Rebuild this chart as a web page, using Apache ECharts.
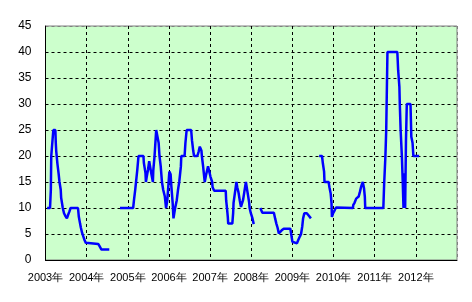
<!DOCTYPE html>
<html>
<head>
<meta charset="utf-8">
<script src="https://cdn.jsdelivr.net/npm/echarts@6/dist/echarts.min.js"></script>
<style>
html,body{margin:0;padding:0;background:#fff;}
#c{width:472px;height:302px;}
</style>
</head>
<body>
<div id="c"></div>
<script>
// x positions are decimal years, values are the plotted values
const yearTicks = [2003, 2004, 2005, 2006, 2007, 2008, 2009, 2010, 2011, 2012];
const yTicks = [0, 5, 10, 15, 20, 25, 30, 35, 40, 45];

const seg1Years = [2003.04,2003.11,2003.13,2003.14,2003.19,2003.24,2003.25,2003.26,2003.29,2003.32,2003.34,2003.37,2003.38,2003.42,2003.45,2003.48,2003.52,2003.55,2003.58,2003.61,2003.79,2003.81,2003.84,2003.86,2003.89,2003.92,2003.95,2003.98,2004.02,2004.28,2004.31,2004.36,2004.55];
const seg1Values = [10,10,13.5,20,25,25,22.5,21,18.5,16.5,15,13.5,12,10,9,8.5,8,8.7,9.3,10,10,8.3,7,6.2,5.2,4.5,3.8,3.3,3.1,3.1,2.7,2,2];

const seg2Years = [2004.81,2005.13,2005.15,2005.18,2005.20,2005.23,2005.26,2005.38,2005.39,2005.43,2005.44,2005.46,2005.49,2005.52,2005.56,2005.57,2005.61,2005.62,2005.65,2005.67,2005.69,2005.72,2005.75,2005.77,2005.80,2005.83,2005.86,2005.90,2005.93,2005.96,2005.99,2006.01,2006.04,2006.06,2006.09,2006.11,2006.14,2006.15,2006.19,2006.22,2006.25,2006.29,2006.30,2006.38,2006.40,2006.43,2006.54,2006.56,2006.59,2006.61,2006.69,2006.72,2006.75,2006.79,2006.80,2006.83,2006.87,2006.90,2006.95,2006.98,2007.01,2007.05,2007.06,2007.10,2007.38,2007.39,2007.41,2007.43,2007.44,2007.54,2007.56,2007.57,2007.61,2007.64,2007.66,2007.69,2007.72,2007.75,2007.78,2007.80,2007.83,2007.87,2007.90,2007.91,2007.95,2007.96,2007.99,2008.03,2008.06];
const seg2Values = [10,10,11.5,13.5,15,17.3,20,20,18.7,16.7,15,16,17.3,19,18.7,16.7,15,17.3,20,22.5,25,25,22.5,20,18,15,13.5,12.2,10,11.5,14.8,17,16.5,14,11,8,8.3,10,11.5,13.5,15,18,20,20,22.5,25,25,23,21,20,20,20.8,21.8,21,20,18,15,16.3,18,17,16,15,14,13.3,13.3,11.5,10,8.3,7,7,9,11,13.3,15,14,13,11.5,10.2,10,11.5,13,15,14.7,13,11,10,9,8,6.9];

const seg3Years = [2008.22,2008.27,2008.55,2008.58,2008.61,2008.64,2008.67,2008.71,2008.74,2008.79,2008.95,2008.97,2009.00,2009.01,2009.11,2009.14,2009.18,2009.21,2009.24,2009.26,2009.29,2009.35,2009.39,2009.42,2009.45];
const seg3Values = [10,9.1,9.1,8,7,6.2,5.1,5.1,5.7,6,6,5,3.5,3.2,3.2,3.8,4.5,5,6.5,8,9,9,8.6,8.3,8];

const seg4Years = [2009.65,2009.72,2009.74,2009.77,2009.78,2009.88,2009.90,2009.93,2009.95,2009.96,2009.99,2010.03,2010.06,2010.47,2010.48,2010.51,2010.55,2010.61,2010.64,2010.67,2010.71,2010.74,2010.76,2010.77,2011.21,2011.23,2011.26,2011.28,2011.29,2011.31,2011.55,2011.57,2011.60,2011.61,2011.63,2011.66,2011.68,2011.70,2011.73,2011.74,2011.76,2011.78,2011.87,2011.89,2011.92,2011.94,2012.08];
const seg4Values = [20,20,18.6,17,15,15,14,12.8,11,8.3,9,9.6,10.1,10,10.6,11,11.8,12.2,13.1,14.1,15,13.8,12.2,10,10,14.7,19.9,25,30,40,40,36.5,33.3,30,25,20,15.4,10,16.7,10,23,30,30,23.7,22.5,20,20];

const segments = [[seg1Years, seg1Values],[seg2Years, seg2Values],[seg3Years, seg3Values],[seg4Years, seg4Values]];

const chart = echarts.init(document.getElementById('c'), null, {renderer:'canvas'});
const series = segments.map(([xs, ys]) => ({
  type: 'line',
  data: xs.map((x, i) => [x, ys[i]]),
  showSymbol: false,
  symbol: 'none',
  animation: false,
  lineStyle: {color: '#0000FF', width: 2.5, cap: 'butt', join: 'bevel'},
  z: 5
}));

const gridLineColors = yTicks.map((t, i) => i === yTicks.length - 1 ? '#808080' : '#000');
const vLineColors = yearTicks.map(() => '#000').concat(['#808080']);

chart.setOption({
  animation: false,
  grid: {left: 45.5, right: 15, top: 26, bottom: 42, show: true, backgroundColor: '#CCFFCC', borderColor: '#808080', borderWidth: 1},
  xAxis: {
    type: 'value', min: 2003, max: 2013, interval: 1,
    axisLine: {show: true, lineStyle: {color: '#000', width: 1}},
    axisTick: {show: false},
    splitLine: {show: true, lineStyle: {color: vLineColors, type: [3, 3], width: 1}},
    axisLabel: {
      margin: 12, color: '#000', fontFamily: 'Liberation Sans', fontSize: 11,
      showMaxLabel: false,
      formatter: v => (yearTicks.indexOf(Math.round(v)) >= 0 ? Math.round(v) + '年' : '')
    }
  },
  yAxis: {
    type: 'value', min: 0, max: 45, interval: 5,
    axisLine: {show: true, lineStyle: {color: '#000', width: 1}},
    axisTick: {show: false},
    splitLine: {show: true, lineStyle: {color: gridLineColors, type: [3, 3], width: 1}},
    axisLabel: {margin: 14, color: '#000', fontFamily: 'Liberation Sans', fontSize: 12,
      formatter: v => (yTicks.indexOf(v) >= 0 ? String(v) : '')}
  },
  series: series
});
</script>
</body>
</html>
